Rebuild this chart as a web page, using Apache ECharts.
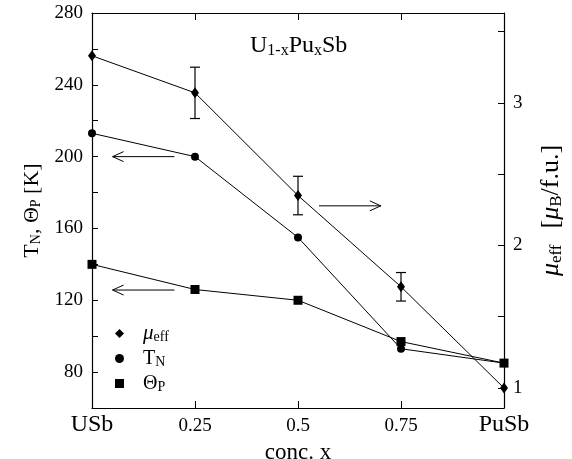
<!doctype html>
<html>
    <head>
        <meta charset="utf-8">
        <title>U1-xPuxSb</title>
        <script src="https://cdn.jsdelivr.net/npm/echarts@6/dist/echarts.min.js"></script>
        <style>
            html, body { margin: 0; padding: 0; background: #fff; }
            #main { width: 572px; height: 459px; }
        </style>
    </head>
    <body>
        <div id="main"></div>
        <script>
            var conc = [0, 0.25, 0.5, 0.75, 1];
            var concLabels = ['USb', '0.25', '0.5', '0.75', 'PuSb'];
            var muEff = [3.33, 3.07, 2.35, 1.71, 1.0];
            var muErr = [0, 0.18, 0.135, 0.1, 0];
            var tN = [213, 200, 155, 93, 85];
            var thetaP = [140, 126, 120, 97, 85];
            var leftLabels = [80, 120, 160, 200, 240, 280];
            var leftTicks = [80, 100, 120, 140, 160, 180, 200, 220, 240, 260];
            var rightLabels = [1, 2, 3];
            var rightTicks = [1, 1.5, 2, 2.5, 3, 3.5];
            // arrows: [xFrom, xTo, yLeftAxis]
            var arrows = [
                [0.2, 0.05, 200],
                [0.2, 0.05, 125.7],
                [0.551, 0.701, 172.6]
            ];

            var FONT = '"Liberation Serif", "DejaVu Serif", serif';
            function subStyle(size, pad) {
                return { fontSize: size, fontFamily: FONT, color: '#000', verticalAlign: 'bottom', padding: [pad, 0, 0, 0] };
            }

            function pairs(ys) {
                return conc.map(function (x, i) { return [x, ys[i]]; });
            }

            var errData = [];
            conc.forEach(function (x, i) {
                if (muErr[i] > 0) errData.push([x, muEff[i] - muErr[i], muEff[i] + muErr[i]]);
            });

            var axisLine = { show: true, onZero: false, lineStyle: { color: '#000', width: 1.2 } };

            var chart = echarts.init(document.getElementById('main'));

            chart.setOption({
                animation: false,
                backgroundColor: '#fff',
                textStyle: { fontFamily: FONT, color: '#000' },
                grid: { left: 92, right: 68, top: 13, bottom: 51, containLabel: false, outerBoundsMode: 'none' },
                title: {
                    text: 'U{s|1-x}Pu{s|x}Sb',
                    left: 245, top: 28,
                    textStyle: {
                        fontFamily: FONT, fontSize: 24, fontWeight: 'normal', color: '#000',
                        rich: { s: subStyle(16, 10) }
                    }
                },
                legend: {
                    orient: 'vertical',
                    left: 110, top: 318,
                    itemWidth: 9, itemHeight: 9, itemGap: 4,
                    selectedMode: false,
                    data: [
                        { name: 'mu', icon: 'diamond' },
                        { name: 'tn', icon: 'circle' },
                        { name: 'tp', icon: 'rect' }
                    ],
                    formatter: function (name) {
                        if (name === 'mu') return '{it|μ}{s|eff}';
                        if (name === 'tn') return 'T{s|N}';
                        return 'Θ{s|P}';
                    },
                    textStyle: {
                        fontFamily: FONT, fontSize: 20, color: '#000', padding: [0, 0, 0, 14],
                        lineHeight: 21,
                        rich: {
                            it: { fontFamily: FONT, fontSize: 21, fontStyle: 'italic', lineHeight: 21 },
                            s: { fontSize: 14, fontFamily: FONT, verticalAlign: 'bottom', lineHeight: 21, padding: [6, 0, 0, 0] }
                        }
                    }
                },
                xAxis: [{
                    type: 'value', min: 0, max: 1, interval: 0.25,
                    name: 'conc. x', nameLocation: 'middle', nameGap: 23,
                    nameTextStyle: { fontFamily: FONT, fontSize: 23, color: '#000' },
                    axisLine: axisLine,
                    axisTick: { inside: true, length: 7, lineStyle: { color: '#000' }, customValues: [0.25, 0.5, 0.75] },
                    splitLine: { show: false },
                    axisLabel: {
                        color: '#000', fontFamily: FONT, fontSize: 19, margin: 5,
                        customValues: conc,
                        formatter: function (v) {
                            var i = conc.indexOf(v);
                            var t = i >= 0 ? concLabels[i] : '';
                            return (i === 0 || i === conc.length - 1) ? '{big|' + t + '}' : '{n|' + t + '}';
                        },
                        rich: {
                            big: { fontFamily: FONT, fontSize: 24, color: '#000', lineHeight: 24, verticalAlign: 'bottom' },
                            n: { fontFamily: FONT, fontSize: 19, color: '#000', lineHeight: 24, verticalAlign: 'bottom', padding: [0, 0, 1, 0] }
                        }
                    }
                }, {
                    type: 'value', min: 0, max: 1, interval: 0.25, position: 'top',
                    axisLine: axisLine,
                    axisTick: { inside: true, length: 7, lineStyle: { color: '#000' }, customValues: [0.25, 0.5, 0.75] },
                    axisLabel: { show: false },
                    splitLine: { show: false }
                }],
                yAxis: [{
                    type: 'value', min: 60, max: 280, interval: 20,
                    name: 'T{s|N}, Θ{s|P} [K]', nameLocation: 'middle', nameGap: 49, nameRotate: 90,
                    nameTextStyle: {
                        fontFamily: FONT, fontSize: 22, color: '#000',
                        rich: { s: subStyle(14, 8) }
                    },
                    axisLine: axisLine,
                    axisTick: { inside: true, length: 6, lineStyle: { color: '#000' }, customValues: leftTicks },
                    splitLine: { show: false },
                    axisLabel: { color: '#000', fontFamily: FONT, fontSize: 19, margin: 9, customValues: leftLabels }
                }, {
                    type: 'value', min: 0.86, max: 3.63, position: 'right',
                    name: '{it|μ}{s|eff}{gap|}[{it|μ}{s|B}/f.u.]', nameLocation: 'middle', nameGap: 34, nameRotate: 90,
                    nameTextStyle: {
                        fontFamily: FONT, fontSize: 26, color: '#000',
                        rich: {
                            it: { fontFamily: FONT, fontSize: 26, fontStyle: 'italic' },
                            s: subStyle(17, 10),
                            gap: { width: 16 }
                        }
                    },
                    axisLine: axisLine,
                    axisTick: { inside: true, length: 6, lineStyle: { color: '#000' }, customValues: rightTicks },
                    splitLine: { show: false },
                    axisLabel: { color: '#000', fontFamily: FONT, fontSize: 19, margin: 9, customValues: rightLabels }
                }],
                series: [{
                    name: 'mu', type: 'line', yAxisIndex: 1,
                    data: pairs(muEff),
                    symbol: 'diamond', symbolSize: [8, 11],
                    itemStyle: { color: '#000' },
                    lineStyle: { color: '#000', width: 1 },
                    z: 3
                }, {
                    name: 'tn', type: 'line',
                    data: pairs(tN),
                    symbol: 'circle', symbolSize: 8,
                    itemStyle: { color: '#000' },
                    lineStyle: { color: '#000', width: 1 },
                    z: 3
                }, {
                    name: 'tp', type: 'line',
                    data: pairs(thetaP),
                    symbol: 'rect', symbolSize: 9,
                    itemStyle: { color: '#000' },
                    lineStyle: { color: '#000', width: 1 },
                    z: 3
                }, {
                    type: 'custom', yAxisIndex: 1,
                    data: errData,
                    renderItem: function (params, api) {
                        var lo = api.coord([api.value(0), api.value(1)]);
                        var hi = api.coord([api.value(0), api.value(2)]);
                        var w = 5;
                        var st = { stroke: '#000', lineWidth: 1.2 };
                        return {
                            type: 'group',
                            children: [
                                { type: 'line', shape: { x1: lo[0], y1: lo[1], x2: hi[0], y2: hi[1] }, style: st },
                                { type: 'line', shape: { x1: lo[0] - w, y1: lo[1], x2: lo[0] + w, y2: lo[1] }, style: st },
                                { type: 'line', shape: { x1: hi[0] - w, y1: hi[1], x2: hi[0] + w, y2: hi[1] }, style: st }
                            ]
                        };
                    },
                    z: 2
                }, {
                    type: 'custom',
                    data: arrows,
                    renderItem: function (params, api) {
                        var a = api.coord([api.value(0), api.value(2)]);
                        var b = api.coord([api.value(1), api.value(2)]);
                        var dir = b[0] > a[0] ? 1 : -1;
                        var st = { stroke: '#000', lineWidth: 1, fill: null };
                        return {
                            type: 'group',
                            children: [
                                { type: 'line', shape: { x1: a[0], y1: a[1], x2: b[0], y2: b[1] }, style: st },
                                {
                                    type: 'polyline',
                                    shape: { points: [[b[0] - dir * 11, b[1] - 5], [b[0], b[1]], [b[0] - dir * 11, b[1] + 5]] },
                                    style: st
                                }
                            ]
                        };
                    },
                    z: 2
                }]
            });
        </script>
    </body>
</html>
